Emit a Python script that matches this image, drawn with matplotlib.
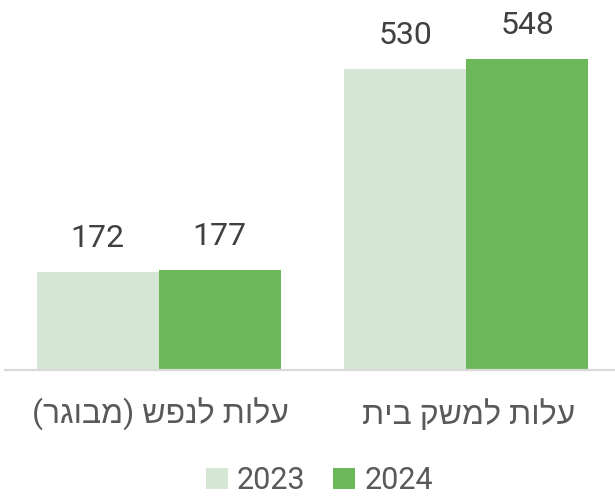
import matplotlib
matplotlib.use("Agg")
import matplotlib.pyplot as plt
from matplotlib.patches import Patch
import numpy as np

categories = ["עלות לנפש (מבוגר)", "עלות למשק בית"]
series_names = ["2023", "2024"]
values_2023 = [172, 530]
values_2024 = [177, 548]
colors = ["#D5E7D4", "#6DB75B"]

plt.rcParams['font.family'] = ['Roboto', 'Liberation Sans', 'DejaVu Sans']


def visual_rtl(s):
    """matplotlib has no bidi support: reverse Hebrew string to visual order."""
    mirror = {'(': ')', ')': '('}
    return ''.join(mirror.get(c, c) for c in reversed(s))


W, H = 615, 498
fig = plt.figure(figsize=(W / 100, H / 100), dpi=100)
ax = fig.add_axes([5 / W, 128 / H, 615 / W, 370 / H])

x = np.arange(len(categories))
w = 0.397
series = [values_2023, values_2024]
for k, (vals, col) in enumerate(zip(series, colors)):
    offs = (k - 0.5) * w
    ax.bar(x + offs, vals, w, color=col, label=series_names[k], zorder=2)
    for xi, v in zip(x + offs, vals):
        ax.annotate(str(v), xy=(xi, v), xytext=(0, 18), textcoords='offset points',
                    ha='center', va='baseline', fontsize=23, color='#404040')

ax.set_xlim(-0.5, 1.5)
ax.set_ylim(0, 652)
for s in ['top', 'right', 'left']:
    ax.spines[s].set_visible(False)
ax.spines['bottom'].set_color('#D9D9D9')
ax.spines['bottom'].set_linewidth(1.6)
ax.set_yticks([])
ax.set_xticks([])

for xi, c in zip(x, categories):
    ax.annotate(visual_rtl(c), xy=(xi, 0), xycoords=('data', 'axes fraction'),
                xytext=(1.5, -32), textcoords='offset points',
                ha='center', va='center', fontsize=23, color='#595959')

handles = [Patch(facecolor=c, edgecolor='none') for c in colors]
fig.legend(handles, series_names, loc='lower center', bbox_to_anchor=(0.519, 0.006),
           ncol=2, frameon=False, fontsize=22, handlelength=0.72, handleheight=0.66,
           handletextpad=0.3, columnspacing=0.9, borderpad=0, borderaxespad=0,
           labelcolor='#595959')

fig.savefig("out.png", dpi=100)
